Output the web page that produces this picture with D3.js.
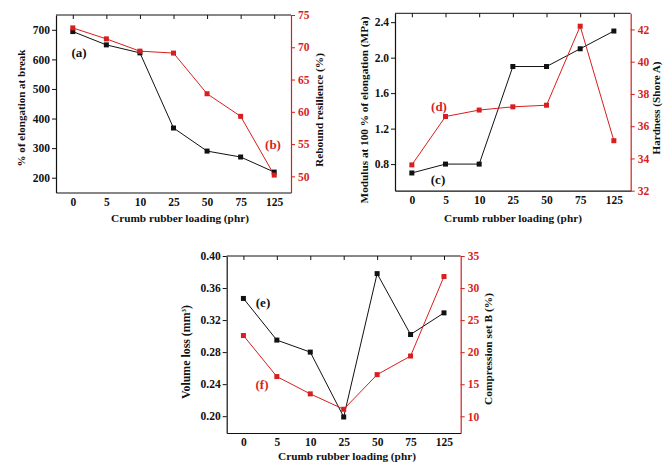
<!DOCTYPE html>
<html>
<head>
<meta charset="utf-8">
<script src="https://cdn.jsdelivr.net/npm/d3@7"></script>
<style>
  body { margin: 0; background: #fff; }
</style>
</head>
<body>
<div id="chart"></div>
<script>
// Crumb rubber loading (phr) - categorical x axis
const loading = ["0", "5", "10", "25", "50", "75", "125"];

// (a) elongation at break, (b) rebound resilience
const elongation = [694, 649, 622, 368, 290, 270, 219];
const resilience = [73.0, 71.3, 69.4, 69.1, 62.8, 59.3, 50.2];

// (c) modulus at 100 %, (d) hardness
const modulus = [0.70, 0.80, 0.80, 1.90, 1.90, 2.10, 2.30];
const hardness = [33.6, 36.6, 37.0, 37.2, 37.3, 42.2, 35.1];

// (e) volume loss, (f) compression set
const volumeLoss = [0.347, 0.295, 0.280, 0.199, 0.378, 0.302, 0.329];
const compressionSet = [22.6, 16.2, 13.5, 11.1, 16.5, 19.4, 31.8];

const black = "#111";
const red = "#d81e1e";
const serif = "'Liberation Serif', 'Times New Roman', 'DejaVu Serif', serif";

const svg = d3.select("#chart")
    .append("svg")
    .attr("width", 664)
    .attr("height", 463)
    .attr("font-family", serif)
    .attr("font-weight", "bold");

// panel layouts (title widths)
const panels = [
    {
        box: { left: 56, right: 291, top: 15, bottom: 192.5 },
        left: elongation, right: resilience,
        leftDomain: [150, 750], rightDomain: [47.5, 75],
        leftTicks: [200, 300, 400, 500, 600, 700], rightTicks: [50, 55, 60, 65, 70, 75],
        leftFmt: d3.format("d"), rightFmt: d3.format("d"),
        xTitle: { x: 180, y: 222, w: 138 },
        leftTitle: { text: "% of elongation at break", x: 21, y: 108, w: 117 },
        rightTitle: { text: "Rebound resilience (%)", x: 319, y: 110, w: 114 },
        leftLabel: { text: "(a)", x: 79, y: 57 }, rightLabel: { text: "(b)", x: 273, y: 149 }
    },
    {
        box: { left: 395, right: 630.7, top: 13.3, bottom: 190.7 },
        left: modulus, right: hardness,
        leftDomain: [0.5, 2.5], rightDomain: [32, 43],
        leftTicks: [0.8, 1.2, 1.6, 2.0, 2.4], rightTicks: [32, 34, 36, 38, 40, 42],
        leftFmt: d3.format(".1f"), rightFmt: d3.format("d"),
        xTitle: { x: 513, y: 222, w: 138 },
        leftTitle: { text: "Modulus at 100 % of elongation (MPa)", x: 364, y: 110, w: 187 },
        rightTitle: { text: "Hardness (Shore A)", x: 656, y: 108, w: 93 },
        leftLabel: { text: "(c)", x: 438, y: 184 }, rightLabel: { text: "(d)", x: 439, y: 111 }
    },
    {
        box: { left: 226.7, right: 460.7, top: 256, bottom: 433 },
        left: volumeLoss, right: compressionSet,
        leftDomain: [0.179, 0.40], rightDomain: [7.4, 35],
        leftTicks: [0.20, 0.24, 0.28, 0.32, 0.36, 0.40], rightTicks: [10, 15, 20, 25, 30, 35],
        leftFmt: d3.format(".2f"), rightFmt: d3.format("d"),
        xTitle: { x: 347, y: 460, w: 138 },
        leftTitle: { text: "Volume loss (mm", sup: "3", tail: ")", x: 186, y: 352, w: 94 },
        rightTitle: { text: "Compression set B (%)", x: 488, y: 349, w: 112 },
        leftLabel: { text: "(e)", x: 263, y: 307 }, rightLabel: { text: "(f)", x: 262, y: 389 }
    }
];

panels.forEach(p => drawPanel(p));

function styleText(sel, size, color) {
    sel.attr("fill", color)
        .style("font-family", serif)
        .style("font-weight", "bold")
        .style("font-size", size);
}

// shrink or grow a title's font so it spans the width seen in the reference
function fitText(sel, width) {
    const base = 12;
    sel.style("font-size", base + "px");
    const len = sel.node().getComputedTextLength();
    if (len > 0) {
        sel.style("font-size", (base * width / len).toFixed(2) + "px");
    }
}

function drawPanel(p) {
    const b = p.box;
    const g = svg.append("g");

    const x = d3.scalePoint()
        .domain(loading)
        .range([b.left, b.right])
        .padding(0.5);

    const yL = d3.scaleLinear().domain(p.leftDomain).range([b.bottom, b.top]);
    const yR = d3.scaleLinear().domain(p.rightDomain).range([b.bottom, b.top]);

    // bottom axis (no tick marks)
    const bottom = g.append("g")
        .attr("transform", "translate(0," + b.bottom + ")")
        .call(d3.axisBottom(x).tickSize(0).tickPadding(5));
    bottom.select(".domain").attr("stroke", black).attr("stroke-width", 1.2);
    styleText(bottom.selectAll("text"), "11.5px", black);

    // top frame with inward ticks
    const top = g.append("g")
        .attr("transform", "translate(0," + b.top + ")")
        .call(d3.axisTop(x).tickSize(-4).tickFormat(""));
    top.select(".domain").attr("stroke", black).attr("stroke-width", 1).attr("d", "M" + b.left + ",0H" + b.right);
    top.selectAll("line").attr("stroke", black);

    // left axis
    const left = g.append("g")
        .attr("transform", "translate(" + b.left + ",0)")
        .call(d3.axisLeft(yL).tickValues(p.leftTicks).tickFormat(p.leftFmt).tickSize(4).tickSizeOuter(0).tickPadding(2));
    left.select(".domain").attr("stroke", black).attr("stroke-width", 1.2);
    left.selectAll("line").attr("stroke", black);
    styleText(left.selectAll("text"), "11.5px", black);

    // right axis (red)
    const right = g.append("g")
        .attr("transform", "translate(" + b.right + ",0)")
        .call(d3.axisRight(yR).tickValues(p.rightTicks).tickFormat(p.rightFmt).tickSize(4).tickSizeOuter(0).tickPadding(3));
    right.select(".domain").attr("stroke", red).attr("stroke-width", 1.2);
    right.selectAll("line").attr("stroke", red);
    styleText(right.selectAll("text"), "11.5px", red);

    // x axis title
    const xt = g.append("text")
        .attr("x", p.xTitle.x)
        .attr("y", p.xTitle.y)
        .attr("text-anchor", "middle")
        .text("Crumb rubber loading (phr)");
    styleText(xt, "12px", black);
    fitText(xt, p.xTitle.w);

    // left y title
    const lt = g.append("text")
        .attr("transform", "translate(" + p.leftTitle.x + "," + p.leftTitle.y + ") rotate(-90)")
        .attr("text-anchor", "middle")
        .attr("dy", "0.35em")
        .text(p.leftTitle.text);
    styleText(lt, "12px", black);
    if (p.leftTitle.sup) {
        lt.append("tspan").attr("baseline-shift", "super").style("font-size", "7px").text(p.leftTitle.sup);
        lt.append("tspan").text(p.leftTitle.tail);
    }
    fitText(lt, p.leftTitle.w);

    // right y title
    const rt = g.append("text")
        .attr("transform", "translate(" + p.rightTitle.x + "," + p.rightTitle.y + ") rotate(-90)")
        .attr("text-anchor", "middle")
        .attr("dy", "0.35em")
        .text(p.rightTitle.text);
    styleText(rt, "12px", black);
    fitText(rt, p.rightTitle.w);

    // lines
    const lineL = d3.line().x((d, i) => x(loading[i])).y(d => yL(d));
    const lineR = d3.line().x((d, i) => x(loading[i])).y(d => yR(d));

    g.append("path")
        .datum(p.left)
        .attr("d", lineL)
        .attr("fill", "none")
        .attr("stroke", black)
        .attr("stroke-width", 1);

    g.append("path")
        .datum(p.right)
        .attr("d", lineR)
        .attr("fill", "none")
        .attr("stroke", red)
        .attr("stroke-width", 1);

    // markers
    const s = 5;
    g.selectAll(".mk-left")
        .data(p.left)
        .enter()
        .append("rect")
        .attr("class", "mk-left")
        .attr("x", (d, i) => x(loading[i]) - s / 2)
        .attr("y", d => yL(d) - s / 2)
        .attr("width", s)
        .attr("height", s)
        .attr("fill", black);

    g.selectAll(".mk-right")
        .data(p.right)
        .enter()
        .append("rect")
        .attr("class", "mk-right")
        .attr("x", (d, i) => x(loading[i]) - s / 2)
        .attr("y", d => yR(d) - s / 2)
        .attr("width", s)
        .attr("height", s)
        .attr("fill", red);

    // series labels
    const ll = g.append("text")
        .attr("x", p.leftLabel.x)
        .attr("y", p.leftLabel.y)
        .attr("text-anchor", "middle")
        .text(p.leftLabel.text);
    styleText(ll, "13px", black);

    const rl = g.append("text")
        .attr("x", p.rightLabel.x)
        .attr("y", p.rightLabel.y)
        .attr("text-anchor", "middle")
        .text(p.rightLabel.text);
    styleText(rl, "13px", red);
}
</script>
</body>
</html>
